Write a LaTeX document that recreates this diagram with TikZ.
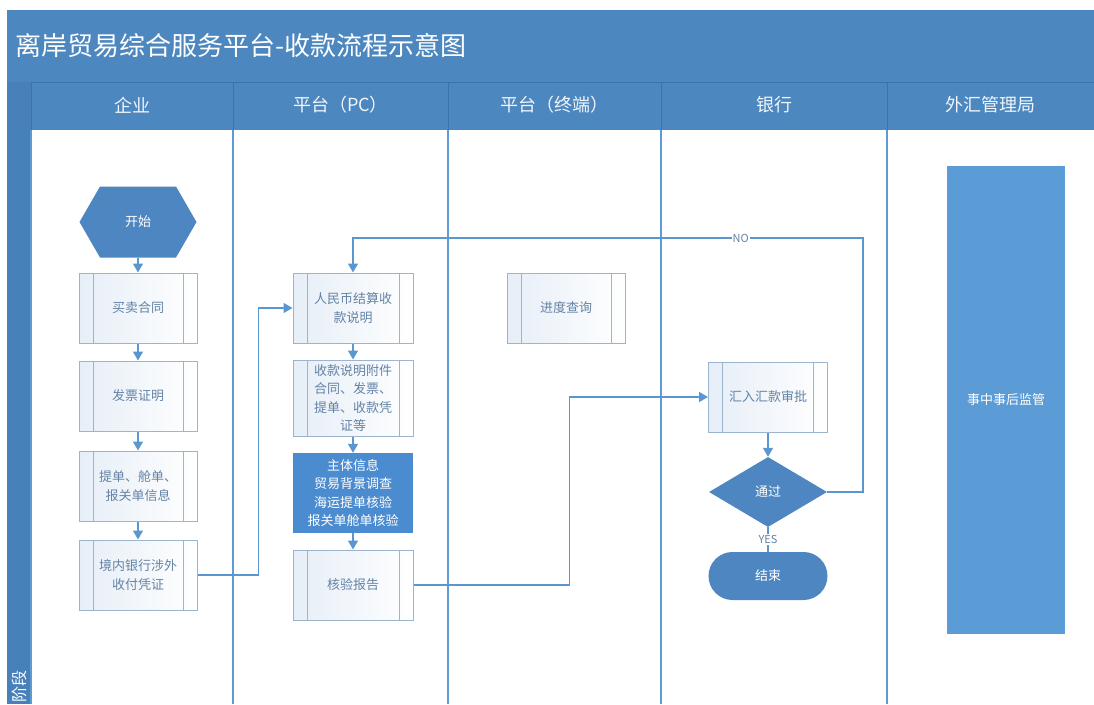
\documentclass[tikz,border=0pt]{standalone}
\usepackage{fontspec}
\setmainfont{Noto Sans CJK SC}
\usetikzlibrary{arrows.meta}
\usetikzlibrary{shapes.geometric,shapes.symbols}

\definecolor{barblue}{HTML}{4D87BF}
\definecolor{stripblue}{HTML}{4880B9}
\definecolor{sepblue}{HTML}{3D73AA}
\definecolor{laneline}{HTML}{5E9AD3}
\definecolor{lineblue}{HTML}{5A96CF}
\definecolor{boxline}{HTML}{9DB4CE}
\definecolor{boxfill}{HTML}{E6EEF7}
\definecolor{boxtext}{HTML}{6483A5}
\definecolor{nodeblue}{HTML}{4D86C0}
\definecolor{checkblue}{HTML}{4B8CD0}
\definecolor{superblue}{HTML}{5B9BD6}

\tikzset{
 subbox/.style={draw=boxline, line width=1, left color=boxfill, right color=white,
  minimum width=118, minimum height=70, align=center, text=boxtext, inner sep=2,
  font=\fontsize{13}{18.5}\selectfont,
  path picture={
   \draw[boxline, line width=1] ([xshift=14pt]path picture bounding box.north west) -- ([xshift=14pt]path picture bounding box.south west);
   \draw[boxline, line width=1] ([xshift=-14pt]path picture bounding box.north east) -- ([xshift=-14pt]path picture bounding box.south east);
  }},
 bluebox/.style={fill=checkblue, text=white, minimum width=120, minimum height=80, align=center,
  inner sep=2, font=\fontsize{13}{18.5}\selectfont},
 hexa/.style={signal, signal to=east and west, signal pointer angle=120, fill=nodeblue,
  text=white, minimum width=117, minimum height=71, inner sep=0, font=\fontsize{13}{16}\selectfont},
 decide/.style={diamond, fill=nodeblue, text=white, minimum width=118, minimum height=70,
  inner sep=0, font=\fontsize{13}{16}\selectfont},
 endbox/.style={fill=nodeblue, rounded corners=24pt, text=white, minimum width=119,
  minimum height=48, font=\fontsize{13}{16}\selectfont},
 lanehead/.style={text=white!92!barblue, font=\fontsize{18}{22}\selectfont},
 flow/.style={draw=lineblue, line width=1.5, -{Triangle[width=10pt,length=9pt]}},
 link/.style={draw=lineblue, line width=1.5},
 tag/.style={fill=white, text=boxtext, inner sep=1, font=\fontsize{11}{13}\selectfont},
}

\begin{document}
\begin{tikzpicture}[x=1pt,y=-1pt]
\useasboundingbox (0,0) rectangle (1094,704);
% title bar, header row and left strip
\fill[barblue] (7,10) rectangle (1094,130);
\fill[stripblue] (7,82) rectangle (31,704);
\draw[sepblue, line width=1] (31,82) -- (1094,82);
\node[anchor=west, text=white, font=\fontsize{26}{30}\selectfont] (title) at (12,46) {离岸贸易综合服务平台-收款流程示意图};
\node[rotate=90, text=white, font=\fontsize{16}{18}\selectfont] (stage) at (19,686) {阶段};
% lanes
\foreach \a/\b/\t in {31/233/企业, 233/448/平台（PC）, 448/661/平台（终端）, 661/887/银行, 887/1094/外汇管理局} {
 \draw[sepblue, line width=1] (\a,82) -- (\a,130);
 \node[lanehead] at ({(\a+\b)/2},105) {\t};
 \draw[laneline, line width=1.8] (\a,130) -- (\a,704);
}
% enterprise
\node[hexa] (start) at (138,222) {开始};
\node[subbox] (contract) at (138,308) {买卖合同};
\node[subbox] (invoice) at (138,396) {发票证明};
\node[subbox] (lading) at (138,486) {提单、舱单、\\报关单信息};
\node[subbox] (voucher) at (138,575) {境内银行涉外\\收付凭证};
% platform pc
\node[subbox, minimum width=120] (rmb) at (353,308) {人民币结算收\\款说明};
\node[subbox, minimum width=120, minimum height=76] (annex) at (353,398) {收款说明附件\\合同、发票、\\提单、收款凭\\证等};
\node[bluebox] (check) at (353,493) {主体信息\\贸易背景调查\\海运提单核验\\报关单舱单核验};
\node[subbox, minimum width=120] (report) at (353,585) {核验报告};
% platform terminal
\node[subbox] (query) at (566,308) {进度查询};
% bank
\node[subbox, minimum width=119] (approve) at (768,397) {汇入汇款审批};
\node[decide] (pass) at (768,492) {通过};
\node[endbox] (finish) at (768,576) {结束};
% safe
\node[fill=superblue, text=white, minimum width=118, minimum height=468, font=\fontsize{13}{16}\selectfont] (supervise) at (1006,400) {事中事后监管};
% connectors
\foreach \a/\b in {start/contract, contract/invoice, invoice/lading, lading/voucher, rmb/annex, annex/check, check/report, approve/pass}
 \draw[flow] (\a.south) -- (\b.north);
\draw[flow] (voucher.east) -- ++(61,0) |- (rmb.west);
\draw[flow] (report.east) -- ++(156,0) |- (approve.west);
\draw[flow] (pass.east) -| (863,238) -| node[pos=0.12, tag]{NO} (rmb.north);
\draw[link] (pass.south) -- node[tag]{YES} (finish.north);
\end{tikzpicture}
\end{document}
